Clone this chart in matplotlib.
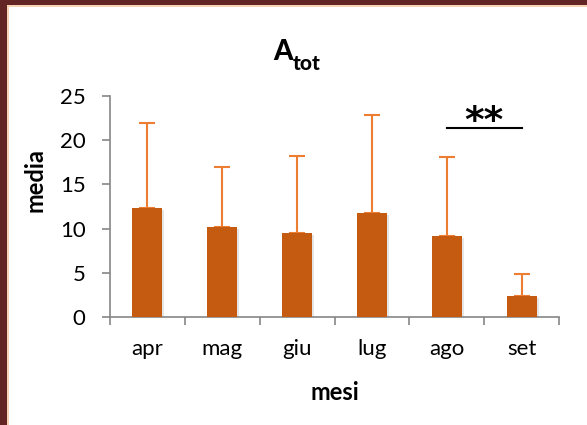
import matplotlib
matplotlib.use("Agg")
import matplotlib.pyplot as plt
import matplotlib.patches as mpatches
import matplotlib.patheffects as pe
import numpy as np

months = ["apr", "mag", "giu", "lug", "ago", "set"]
means = [12.3, 10.2, 9.5, 11.8, 9.2, 2.4]
err_up = [9.6, 6.8, 8.7, 11.1, 8.9, 2.5]
sig_pair = (4, 5)
sig_y = 21.4
sig_label = "**"

plt.rcParams['font.family'] = ['Lato', 'DejaVu Sans']

W, H = 587, 425
fig = plt.figure(figsize=(W / 100, H / 100), dpi=100)
fig.patch.set_facecolor("white")

def fx(px):
    return px / W

def fy(py):
    return (H - py) / H

# border
fig.patches.append(mpatches.Rectangle((0, 0), 7 / W, 1, transform=fig.transFigure,
                                      facecolor="#632523", edgecolor="none", zorder=0))
fig.patches.append(mpatches.Rectangle((0, 1 - 5 / H), 1, 5 / H, transform=fig.transFigure,
                                      facecolor="#632523", edgecolor="none", zorder=0))
fig.patches.append(mpatches.Rectangle((7 / W, 0), 2 / W, 1 - 5 / H, transform=fig.transFigure,
                                      facecolor="#F9D3B6", edgecolor="none", zorder=0))
fig.patches.append(mpatches.Rectangle((7 / W, 1 - 7 / H), 1, 2 / H, transform=fig.transFigure,
                                      facecolor="#F9D3B6", edgecolor="none", zorder=0))

ax = fig.add_axes([110 / W, 108 / H, 449 / W, 221 / H])
x = np.arange(len(months))
bars = ax.bar(x, means, width=0.4, color="#C55A11", zorder=3)
for b in bars:
    b.set_path_effects([pe.SimplePatchShadow(offset=(1.5, -1.5), shadow_rgbFace="gray", alpha=0.2),
                        pe.Normal()])
ax.errorbar(x, means, yerr=[np.zeros(len(means)), err_up], fmt="none",
            ecolor="#ED7D31", elinewidth=1.5, capsize=6, capthick=1.5, zorder=2)

ax.set_xlim(-0.5, len(months) - 0.5)
ax.set_ylim(0, 25)
ax.set_yticks([0, 5, 10, 15, 20, 25])
ax.set_xticks(x)
ax.set_xticklabels(months)
ax.set_xticks(np.arange(-0.5, len(months)), minor=True)
ax.tick_params(axis="x", which="major", length=0, pad=16, labelsize=16)
ax.tick_params(axis="x", which="minor", length=5.5, width=1.2, color="#868686", direction="out")
ax.tick_params(axis="y", length=5.5, width=1.2, color="#868686", direction="out", labelsize=16, pad=12)

for s in ["top", "right"]:
    ax.spines[s].set_visible(False)
for s in ["left", "bottom"]:
    ax.spines[s].set_color("#868686")
    ax.spines[s].set_linewidth(1.2)

ax.set_ylabel("media", fontsize=17, fontweight="bold", va="center", ha="center")
ax.yaxis.set_label_coords((35 - 110) / 449, (317 - 180) / 221)
ax.set_xlabel("mesi", fontsize=17, fontweight="bold", va="center", ha="center")
ax.xaxis.set_label_coords(0.5, (317 - 392) / 221)

# title A_tot
fig.text(fx(273), fy(60), "A", fontsize=20, fontweight="black", ha="left", va="baseline")
fig.text(fx(293), fy(70), "tot", fontsize=15, fontweight="black", ha="left", va="baseline")

ax.plot([sig_pair[0], sig_pair[1]], [sig_y, sig_y], color="black", lw=1.5, clip_on=False)
ax.text((sig_pair[0] + sig_pair[1]) / 2, 20.9, sig_label, ha="center", va="baseline",
        fontsize=27, fontweight="bold", family="DejaVu Sans", clip_on=False)

fig.savefig("out.png", dpi=100)
